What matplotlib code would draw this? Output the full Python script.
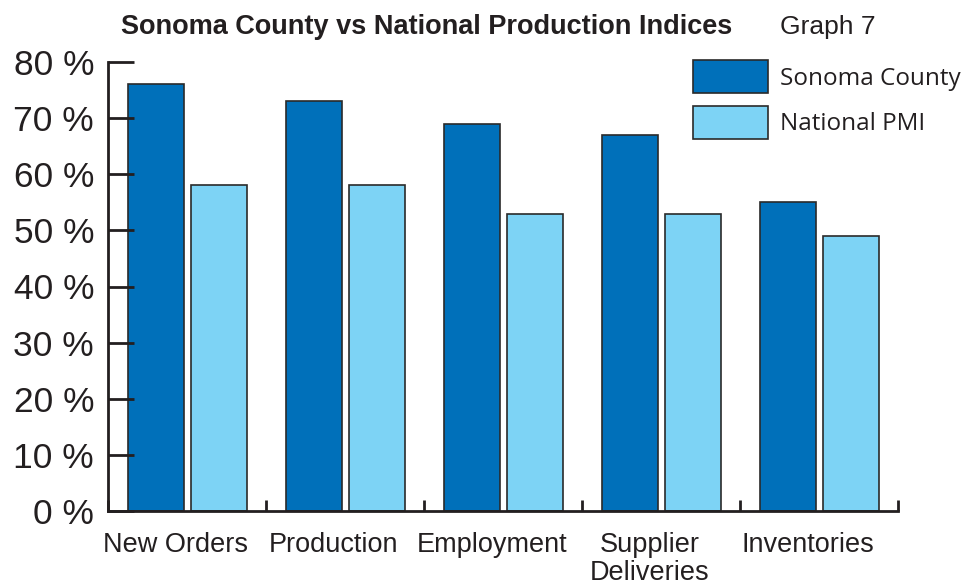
import matplotlib.pyplot as plt
import matplotlib.patches as patches
import numpy as np

categories = ['New Orders', 'Production', 'Employment', 'Supplier\nDeliveries', 'Inventories']
sonoma = [76, 73, 69, 67, 55]
national = [58, 58, 53, 53, 49]
series_names = ['Sonoma County', 'National PMI']
yticks = [0, 10, 20, 30, 40, 50, 60, 70, 80]

dark = '#0070BA'
light = '#7DD3F5'
edge = '#2a2a2a'
ink = '#231f20'

plt.rcParams['font.family'] = ['Liberation Sans', 'DejaVu Sans']

fig = plt.figure(figsize=(9.68, 5.86), dpi=100)
ax = fig.add_axes([108 / 968, 1 - 511 / 586, 790 / 968, 449 / 586])

x = np.arange(len(categories))
bw = 0.355
ax.bar(x + 0.304, sonoma, bw, color=dark, edgecolor=edge, linewidth=1.2,
       label=series_names[0])
ax.bar(x + 0.704, national, bw, color=light, edgecolor=edge, linewidth=1.2,
       label=series_names[1])

ax.set_xlim(0, len(categories))
ax.set_ylim(0, 80)
ax.set_yticks(yticks)
ax.set_yticklabels(['%d %%' % v for v in yticks], fontsize=25.5, color=ink)
ax.tick_params(axis='y', direction='in', length=19, width=2, color=ink, pad=10)

# category labels between boundary ticks
ax.set_xticks(np.arange(len(categories) + 1))
ax.set_xticklabels([])
ax.tick_params(axis='x', direction='in', length=8, width=2, color=ink)
ax.set_xticks(x + 0.43, minor=True)
ax.set_xticklabels(categories, minor=True, fontsize=19.5, color=ink,
                   linespacing=1.12, va='top')
ax.tick_params(axis='x', which='minor', length=0, pad=15)

for s in ['top', 'right']:
    ax.spines[s].set_visible(False)
for s in ['left', 'bottom']:
    ax.spines[s].set_linewidth(2)
    ax.spines[s].set_color(ink)
    ax.spines[s].set_zorder(5)

fig.text(427 / 968, 1 - 34 / 586, 'Sonoma County vs National Production Indices',
         ha='center', va='baseline', fontsize=19.5, fontweight='bold', color=ink)
fig.text(780 / 968, 1 - 34 / 586, 'Graph 7', ha='left', va='baseline',
         fontsize=19, color=ink)

# legend boxes
for i, (name, col) in enumerate(zip(series_names, [dark, light])):
    y0 = 1 - (93 + i * 46) / 586
    fig.patches.append(patches.Rectangle((693 / 968, y0), 75 / 968, 33 / 586,
                                         transform=fig.transFigure, facecolor=col,
                                         edgecolor=edge, linewidth=1.2))
    fig.text(780 / 968, y0 + 14.5 / 586, name, ha='left', va='center',
             fontsize=17.5, family=['Open Sans', 'DejaVu Sans'], color=ink)

fig.savefig('out.png', dpi=100)
